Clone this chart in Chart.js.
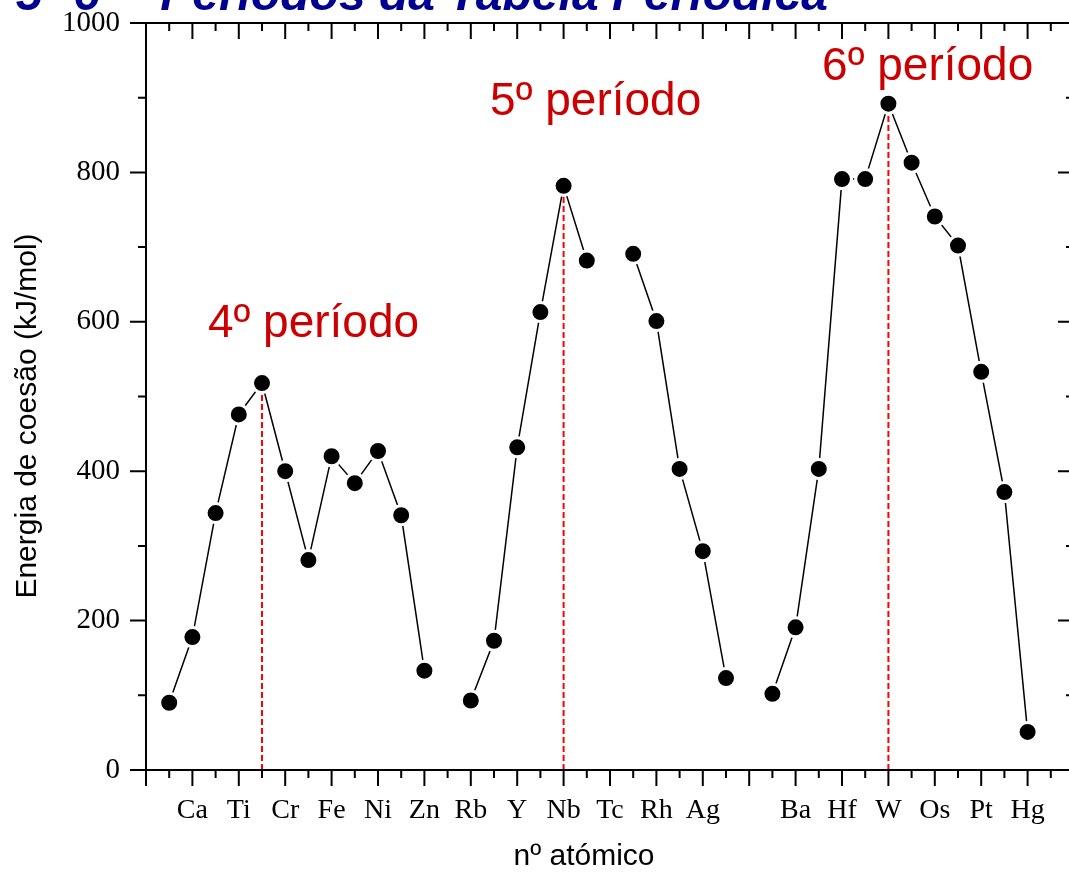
<!DOCTYPE html>
<html>
<head>
    <meta charset="utf-8">
    <title>Energia de coesão - 4º, 5º e 6º períodos</title>
    <script src="https://cdn.jsdelivr.net/npm/chart.js@4.4.0/dist/chart.umd.min.js"></script>
    <style>
        html, body { margin: 0; padding: 0; overflow: hidden; background: #fff; }
        #wrap { width: 1080px; height: 874px; }
    </style>
</head>
<body>
<div id="wrap"><canvas id="coesao" width="1080" height="874"></canvas></div>
<script>
// elementos por posição no eixo x (null = sem ponto)
var elementos = ['K','Ca','Sc','Ti','V','Cr','Mn','Fe','Co','Ni','Cu','Zn', null,
    'Rb','Sr','Y','Zr','Nb','Mo', null,'Ru','Rh','Pd','Ag','Cd', null,
    'Cs','Ba','La','Hf','Ta','W','Re','Os','Ir','Pt','Au','Hg'];
var energia = [90, 178, 344, 476, 518, 400, 281, 420, 384, 427, 341, 133, null,
    93, 173, 432, 613, 782, 682, null, 691, 601, 403, 293, 123, null,
    102, 191, 403, 791, 791, 892, 813, 741, 702, 533, 372, 51];

// marcas com nome no eixo x
var tickPos   = [1, 3, 5, 7, 9, 11, 13, 15, 17, 19, 21, 23, 27, 29, 31, 33, 35, 37];
var tickNomes = ['Ca','Ti','Cr','Fe','Ni','Zn','Rb','Y','Nb','Tc','Rh','Ag','Ba','Hf','W','Os','Pt','Hg'];

// máximos de cada período (linhas vermelhas)
var picos = [4, 17, 31];
var periodos = ['4º período', '5º período', '6º período'];
var periodoX = [1.67, 13.83, 28.14];
var periodoY = [580, 877, 924];

var pontos = energia.map(function(v, i) { return { x: i, y: v }; });

var datasets = [{
    label: 'Energia de coesão',
    data: pontos,
    borderColor: '#000',
    borderWidth: 1.5,
    backgroundColor: '#000',
    pointRadius: 9.5,
    pointHoverRadius: 9.5,
    pointBorderColor: '#fff',
    pointBorderWidth: 3,
    pointBackgroundColor: '#000',
    spanGaps: false,
    order: 0
}];
picos.forEach(function(p) {
    datasets.push({
        data: [{ x: p, y: 0 }, { x: p, y: energia[p] }],
        borderColor: '#ff0000',
        borderWidth: 2,
        borderDash: [6, 3],
        pointRadius: 0,
        order: 1
    });
});

// moldura, marcas de escala e textos
var moldura = {
    id: 'moldura',
    afterDraw: function(chart) {
        var c = chart.ctx, a = chart.chartArea;
        var xs = chart.scales.x, ys = chart.scales.y;
        c.save();
        c.strokeStyle = '#000';
        c.lineWidth = 2;
        c.beginPath();
        c.rect(a.left, a.top, a.right - a.left, a.bottom - a.top);
        c.stroke();
        c.beginPath();
        for (var i = -1; i <= 39; i++) {
            var px = xs.getPixelForValue(i);
            var len = (i % 2 !== 0) ? 16 : 8;
            c.moveTo(px, a.bottom); c.lineTo(px, a.bottom + len);
            c.moveTo(px, a.top); c.lineTo(px, a.top + len);
        }
        for (var v = 0; v <= 1000; v += 100) {
            var py = ys.getPixelForValue(v);
            var l2 = (v % 200 === 0) ? 16 : 8;
            c.moveTo(a.left, py); c.lineTo(a.left - l2, py);
            c.moveTo(a.right, py); c.lineTo(a.right - l2, py);
        }
        c.stroke();

        c.fillStyle = '#cc0000';
        c.font = '46px "Liberation Sans", Arial, sans-serif';
        c.textAlign = 'left';
        c.textBaseline = 'alphabetic';
        periodos.forEach(function(t, k) {
            c.fillText(t, xs.getPixelForValue(periodoX[k]), ys.getPixelForValue(periodoY[k]));
        });

        // títulos dos eixos
        c.fillStyle = '#000';
        c.font = '30px "Liberation Sans", Arial, sans-serif';
        c.textAlign = 'center';
        c.textBaseline = 'middle';
        c.fillText('nº atómico', 584, 857);
        c.save();
        c.translate(28, 416);
        c.rotate(-Math.PI / 2);
        c.fillText('Energia de coesão (kJ/mol)', 0, 0);
        c.restore();

        c.fillStyle = '#000090';
        c.font = 'italic bold 48px "Liberation Sans", Arial, sans-serif';
        c.textAlign = 'right';
        c.textBaseline = 'alphabetic';
        c.fillText('4º 5º 6º - Períodos da Tabela Periódica', 828, 10);
        c.restore();
    }
};

var ctx = document.getElementById('coesao').getContext('2d');
var chart = new Chart(ctx, {
    type: 'line',
    data: { datasets: datasets },
    options: {
        responsive: false,
        animation: false,
        layout: { autoPadding: false, padding: { top: 23, right: 6, left: 0, bottom: 0 } },
        plugins: { legend: { display: false }, tooltip: { enabled: false } },
        scales: {
            x: {
                type: 'linear',
                min: -1,
                max: 39,
                grid: { display: false, drawTicks: false },
                border: { display: false },
                afterBuildTicks: function(s) {
                    s.ticks = tickPos.map(function(p) { return { value: p }; });
                },
                afterFit: function(s) { s.height = 104; s.paddingLeft = 0; s.paddingRight = 0; },
                ticks: {
                    autoSkip: false,
                    maxRotation: 0,
                    padding: 24,
                    color: '#000',
                    font: { family: '"Liberation Serif", "Times New Roman", serif', size: 28 },
                    callback: function(value) {
                        var k = tickPos.indexOf(value);
                        return k >= 0 ? tickNomes[k] : '';
                    }
                }
            },
            y: {
                min: 0,
                max: 1000,
                grid: { display: false, drawTicks: false },
                border: { display: false },
                afterFit: function(s) { s.width = 146; s.paddingTop = 0; s.paddingBottom = 0; },
                ticks: {
                    stepSize: 200,
                    padding: 26,
                    color: '#000',
                    font: { family: '"Liberation Serif", "Times New Roman", serif', size: 29 },
                    callback: function(value) { return String(value); }
                }
            }
        }
    },
    plugins: [moldura]
});
</script>
</body>
</html>
